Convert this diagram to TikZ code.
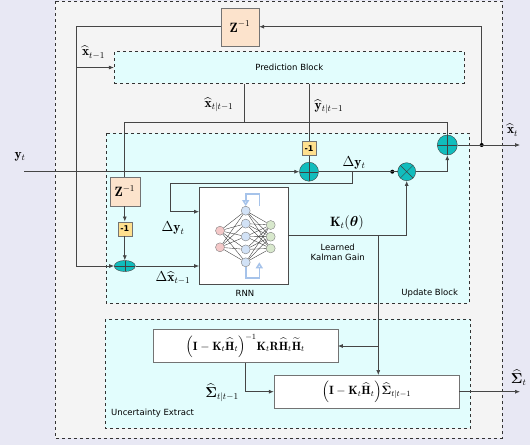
\documentclass[tikz,border=0pt]{standalone}
\usepackage{amsmath,amssymb,bm}
\usepackage{fontspec}
\setsansfont{DejaVu Sans}
\usetikzlibrary{arrows.meta,shapes.geometric}

\definecolor{pagelilac}{HTML}{E8E8F4}
\definecolor{outergray}{HTML}{F4F4F4}
\definecolor{blockcyan}{HTML}{E2FDFD}
\definecolor{delaypeach}{HTML}{FCE3CC}
\definecolor{negyellow}{HTML}{FFE08E}
\definecolor{sumteal}{HTML}{11BDBD}
\definecolor{wirecol}{HTML}{454545}
\definecolor{inpink}{HTML}{F4C8C8}
\definecolor{hidblue}{HTML}{D2E2F6}
\definecolor{outgreen}{HTML}{D8E8CC}
\definecolor{recblue}{HTML}{A6C3EA}

\tikzset{
	wire/.style={draw=wirecol, line width=0.7pt},
	arr/.style={wire, -{Latex[length=5pt,width=4pt]}},
	region/.style={draw=black!80, dashed, line width=0.9pt},
	delaybox/.style={draw=black!55, fill=delaypeach, minimum width=38pt, minimum height=38pt, inner sep=0pt, font=\fontsize{13.5}{15}\selectfont},
	negbox/.style={draw=black!55, fill=negyellow, minimum width=14pt, minimum height=14pt, inner sep=0pt, font=\sffamily\bfseries\fontsize{8}{9}\selectfont},
	adder/.style={circle, draw=black!75, fill=sumteal, minimum size=20pt, inner sep=0pt,
		path picture={\draw[black!75] (path picture bounding box.north) -- (path picture bounding box.south) (path picture bounding box.west) -- (path picture bounding box.east);}},
	mixer/.style={circle, draw=black!75, fill=sumteal, minimum size=18pt, inner sep=0pt,
		path picture={\draw[black!75] ([shift={(-6.4pt,-6.4pt)}]path picture bounding box.center) -- ([shift={(6.4pt,6.4pt)}]path picture bounding box.center) ([shift={(-6.4pt,6.4pt)}]path picture bounding box.center) -- ([shift={(6.4pt,-6.4pt)}]path picture bounding box.center);}},
	lbl/.style={font=\fontsize{13.5}{15}\selectfont, inner sep=0pt},
	note/.style={font=\sffamily\fontsize{8.5}{10}\selectfont, inner sep=0pt},
	eqbox/.style={draw=black!55, fill=white, minimum width=185pt, minimum height=33pt, inner sep=0pt, font=\fontsize{12}{14}\selectfont},
	neuron/.style={circle, draw=black!50, line width=0.4pt, minimum size=9pt, inner sep=0pt},
	synapse/.style={draw=black!80, line width=0.35pt},
	recur/.style={draw=recblue, line width=1.6pt, -{Triangle[open,length=6pt,width=7pt]}},
	jdot/.style={circle, fill=black, inner sep=0pt, minimum size=4pt}
}

\begin{document}
\begin{tikzpicture}[x=1pt,y=-1pt]
	%%%%% START %%%%%
	\useasboundingbox (0,0) rectangle (530,445);
	\fill[pagelilac] (0,0) rectangle (530,445);
	
	% regions
	\draw[region, fill=outergray] (55,1) rectangle (502,438);
	\node[region, fill=blockcyan, minimum width=350pt, minimum height=31.6pt, note] (pred) at (289.3,67.5) {Prediction Block};
	\draw[region, fill=blockcyan] (106,133.3) rectangle (469,303.3);
	\draw[region, fill=blockcyan] (105,319.3) rectangle (470.7,428.3);
	
	% blocks
	\node[delaybox] (ztop) at (240,26.7) {$\mathbf{Z}^{-1}$};
	\node[delaybox, minimum width=30pt, minimum height=29pt] (zin) at (124.8,191.3) {$\mathbf{Z}^{-1}$};
	\node[negbox] (negX) at (124.8,228.7) {-1};
	\node[adder, shape=ellipse, minimum width=21pt, minimum height=11pt] (plusX) at (124.8,266) {};
	\node[negbox] (negY) at (309,148.3) {-1};
	\node[adder, minimum size=19pt] (plusY) at (309,171.7) {};
	\node[mixer] (mult) at (406.7,171.7) {};
	\node[adder] (plusTop) at (447.3,145) {};
	\node[draw=black!70, fill=white, minimum width=88.4pt, minimum height=97pt, inner sep=0pt] (rnn) at (243.5,235.8) {};
	\node[eqbox] (gainbox) at (245.2,346) {$\Big(\mathbf{I}-\mathbf{K}_t\widehat{\mathbf{H}}_t\Big)^{-1}\mathbf{K}_t\mathbf{R}\widehat{\mathbf{H}}_t\widetilde{\mathbf{H}}_t$};
	\node[eqbox] (covbox) at (366.5,391.7) {$\Big(\mathbf{I}-\mathbf{K}_t\widehat{\mathbf{H}}_t\Big)\widehat{\bm{\Sigma}}_{t|t-1}$};
	
	% rnn inside
	\foreach \n in {1,2}
		\node[neuron, fill=inpink] (in\n) at (220,{214.1+16.6*\n}) {};
	\foreach \n in {1,...,5}
		\node[neuron, fill=hidblue] (hid\n) at (245.7,{197.8+12.9*\n}) {};
	\foreach \n in {1,2,3}
		\node[neuron, fill=outgreen] (out\n) at (270.7,{213.3+11.7*\n}) {};
	\foreach \i in {1,2}
		\foreach \h in {1,...,5}
			\draw[synapse] (in\i) -- (hid\h);
	\foreach \h in {1,...,5}
		\foreach \o in {1,2,3}
			\draw[synapse] (hid\h) -- (out\o);
	\draw[recur] ([xshift=13.6pt]hid1.north) -- ++(0,-12) -| (hid1.north);
	\draw[recur] (hid5.south) -- ++(0,11) -| ([xshift=13.6pt]hid5.center);
	
	% coordinates
	\coordinate (leftbus) at (76.3,26.7);
	\coordinate (busleft) at (124.8,122.3);
	\coordinate (yin) at (24.3,171.7);
	\coordinate (dytap) at (352.3,0);
	\coordinate (ktap) at (378.3,0);
	\coordinate (xout) at (520,145);
	\coordinate (sigout) at (520,391.7);
	\node[jdot] (fbdot) at (481.7,145) {};
	\node[jdot] (dydot) at (392.3,171.7) {};
	
	% connectors
	\draw[arr] (fbdot) |- (ztop.east);
	\draw[arr] (ztop.west) -- (leftbus) |- (plusX.west);
	\draw[arr] (leftbus |- pred.west) -- (pred.west);
	\draw[wire] ([xshift=-45pt]pred.south) -- ([xshift=-45pt]pred.south |- busleft);
	\draw[wire] (zin.north) -- (busleft) -| (plusTop.north);
	\draw[wire] ([xshift=19.7pt]pred.south) -- (negY.north);
	\draw[wire] (negY.south) -- (plusY.north);
	\draw[arr] (plusTop.east) -- (xout);
	\draw[arr] (yin) -- (plusY.west);
	\draw[wire] (plusY.east) -- (mult.west);
	\draw[arr] (dytap |- plusY.east) -- ++(0,11.6) -| ([xshift=-28.3pt,yshift=24.1pt]rnn.west) -- ([yshift=24.1pt]rnn.west);
	\draw[arr] (zin.south) -- (negX.north);
	\draw[arr] (negX.south) -- (plusX.north);
	\draw[arr] (plusX.east) -- (plusX.east -| rnn.west);
	\draw[arr] (rnn.east) -| (mult.south);
	\draw[arr] (mult.east) -| (plusTop.south);
	\draw[arr] (ktap |- rnn.east) -- (ktap |- covbox.north);
	\draw[arr] (ktap |- gainbox.east) -- (gainbox.east);
	\draw[arr] (gainbox.south) |- (covbox.west);
	\draw[arr] (covbox.east) -- (sigout);
	
	% labels
	\node[lbl] (lxprev) at (93.5,52.5) {$\widehat{\mathbf{x}}_{t-1}$};
	\node[lbl] (lxpred) at (219,105) {$\widehat{\mathbf{x}}_{t|t-1}$};
	\node[lbl] (lypred) at (329,107) {$\widehat{\mathbf{y}}_{t|t-1}$};
	\node[lbl] (lxout) at (512.5,130) {$\widehat{\mathbf{x}}_t$};
	\node[lbl] (lyin) at (20,157) {$\mathbf{y}_t$};
	\node[lbl] (ldy) at (354,163) {$\Delta\mathbf{y}_t$};
	\node[lbl] (ldyrnn) at (173,228.3) {$\Delta\mathbf{y}_t$};
	\node[lbl] (ldx) at (173,278) {$\Delta\widehat{\mathbf{x}}_{t-1}$};
	\node[lbl] (lgain) at (347,222.7) {$\mathbf{K}_t(\bm{\theta})$};
	\node[lbl] (lsigpred) at (222,393) {$\widehat{\bm{\Sigma}}_{t|t-1}$};
	\node[lbl] (lsigout) at (518.7,378) {$\widehat{\bm{\Sigma}}_t$};
	\node[note] (lrnn) at (245,293.5) {RNN};
	\node[note, align=center] (llearn) at (337.7,252) {Learned\\Kalman Gain};
	\node[note] (lupdate) at (429.7,293.5) {Update Block};
	\node[note, anchor=west] (luncert) at (111,412.7) {Uncertainty Extract};
	
	%%%%% END %%%%%
\end{tikzpicture}
\end{document}
